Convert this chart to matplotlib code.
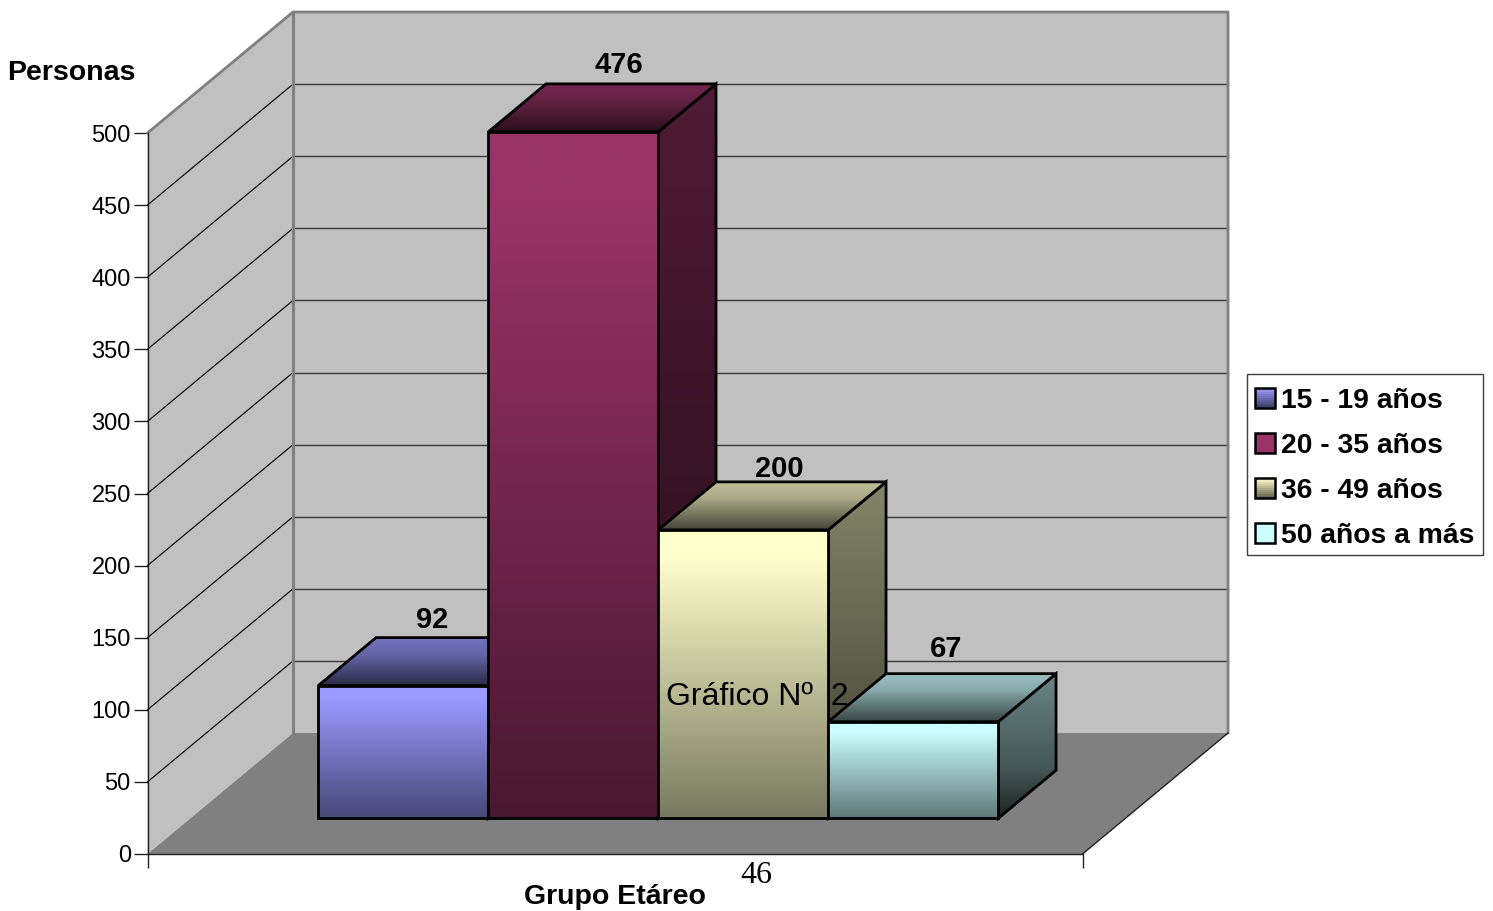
#!/usr/bin/env python3

import matplotlib
matplotlib.use('Agg')
import matplotlib.pyplot as plt
import numpy as np
from matplotlib.colors import LinearSegmentedColormap
from matplotlib.legend_handler import HandlerBase
from matplotlib.patches import Patch, Polygon, Rectangle

# data
groups = ['15 - 19 años', '20 - 35 años', '36 - 49 años', '50 años a más']
people = [92, 476, 200, 67]
y_ticks = [0, 50, 100, 150, 200, 250, 300, 350, 400, 450, 500]
colors = ['#9999ff', '#993366', '#ffffcc', '#ccffff']

W, H = 1493, 911
plt.rcParams['font.family'] = ['Liberation Sans', 'DejaVu Sans']

# the floor is drawn as an oblique projection, depth 1 is the back wall
X_MAX = 5.5
Y_MAX = 500
GAP = 0.752
DEPTH_X = 0.856
DEPTH_Y = 83.9
BAR_FRONT = 0.295
BAR_BACK = 0.692
# small shifts of the value labels, in pixels
NUDGE = [(0, 10), (17, 11), (7, 5), (4, 17)]
# darkest shade of the legend swatches, 1 means a flat swatch
SWATCH_DARK = [0.4, 1.0, 0.4, 1.0]


def project(x, y, depth):
    return (x + depth * DEPTH_X, y + depth * DEPTH_Y)


def shade(color, factor):
    return tuple(c * factor for c in matplotlib.colors.to_rgb(color))


def gradient_poly(ax, fig, points, color, stops, zorder):
    # vertical gradient clipped to a polygon with a black outline, stops run top to bottom
    pts = np.array(points)
    cmap = LinearSegmentedColormap.from_list('g', [(p, shade(color, f)) for p, f in stops])
    extent = (pts[:, 0].min(), pts[:, 0].max(), pts[:, 1].min(), pts[:, 1].max())
    grad = np.linspace(0, 1, 256).reshape(-1, 1)
    im = ax.imshow(grad, cmap=cmap, vmin=0, vmax=1, extent=extent, aspect='auto',
                   zorder=zorder, interpolation='bilinear')
    outline = Polygon(points, closed=True, fill=False, edgecolor='black', lw=2.0,
                      zorder=zorder, clip_on=False, joinstyle='miter')
    ax.add_patch(outline)
    clip = Polygon(points, closed=True, transform=ax.transData)
    im.set_clip_box(fig.bbox)
    im.set_clip_path(clip)


class SwatchHandler(HandlerBase):
    def __init__(self, dark):
        super().__init__()
        self.dark = dark

    def create_artists(self, legend, orig, xd, yd, w, h, fontsize, trans):
        color = orig.get_facecolor()[:3]
        n = 10
        artists = []
        for i in range(n):
            f = 1.0 - (1.0 - self.dark) * i / (n - 1)
            artists.append(Rectangle((-xd, -yd + h * (n - i - 1) / n), w, h / n + 0.2,
                                     facecolor=shade(color, f), edgecolor='none', transform=trans))
        artists.append(Rectangle((-xd, -yd), w, h, fill=False, edgecolor='black', lw=1.8,
                                 transform=trans))
        return artists


fig = plt.figure(figsize=(W / 100, H / 100), dpi=100)
ax = fig.add_axes([147.5 / W, (H - 854) / H, (1082.5 - 147.5) / W, (854 - 133) / H])
ax.patch.set_visible(False)

# walls and floor
side = [project(0, 0, 0), project(0, Y_MAX, 0), project(0, Y_MAX, 1), project(0, 0, 1)]
back = [project(0, 0, 1), project(0, Y_MAX, 1), project(X_MAX, Y_MAX, 1), project(X_MAX, 0, 1)]
floor = [project(0, 0, 0), project(X_MAX, 0, 0), project(X_MAX, 0, 1), project(0, 0, 1)]
ax.add_patch(Polygon(side, closed=True, fc='#c0c0c0', ec='none', zorder=1, clip_on=False))
ax.add_patch(Polygon(back, closed=True, fc='#c0c0c0', ec='none', zorder=1, clip_on=False))
ax.add_patch(Polygon(floor, closed=True, fc='#808080', ec='none', zorder=1, clip_on=False))

# grid on both walls
for v in y_ticks[1:-1]:
    a = project(0, v, 0)
    b = project(0, v, 1)
    c = project(X_MAX, v, 1)
    ax.plot([a[0], b[0]], [a[1], b[1]], color='#101010', lw=0.9, zorder=2, clip_on=False)
    ax.plot([b[0], c[0]], [b[1], c[1]], color='#383838', lw=1.0, zorder=2, clip_on=False)

# wall outlines
edge = [project(0, Y_MAX, 0), project(0, Y_MAX, 1), project(X_MAX, Y_MAX, 1), project(X_MAX, 0, 1)]
ax.plot(*zip(*edge), color='#808080', lw=2.0, zorder=2, clip_on=False)
ax.plot(*zip(project(0, 0, 1), project(0, Y_MAX, 1)), color='#808080', lw=2.2, zorder=2,
        clip_on=False)
ax.plot(*zip(project(X_MAX, 0, 0), project(X_MAX, 0, 1)), color='#202020', lw=1.0, zorder=2,
        clip_on=False)

# bars, left to right so each one covers the side of the previous
for i, (value, color) in enumerate(zip(people, colors)):
    z = 3 + i
    x0 = GAP + i
    x1 = x0 + 1
    front = [project(x0, 0, BAR_FRONT), project(x1, 0, BAR_FRONT),
             project(x1, value, BAR_FRONT), project(x0, value, BAR_FRONT)]
    top = [project(x0, value, BAR_FRONT), project(x1, value, BAR_FRONT),
           project(x1, value, BAR_BACK), project(x0, value, BAR_BACK)]
    right = [project(x1, 0, BAR_FRONT), project(x1, 0, BAR_BACK),
             project(x1, value, BAR_BACK), project(x1, value, BAR_FRONT)]
    gradient_poly(ax, fig, right, color, [(0, 0.52), (0.65, 0.34), (1, 0.14)], z)
    gradient_poly(ax, fig, top, color, [(0, 0.76), (0.35, 0.66), (1, 0.27)], z)
    gradient_poly(ax, fig, front, color, [(0, 1.0), (0.1, 1.0), (1, 0.47)], z)

    lx = project(x0 + 0.5, value, (BAR_FRONT + BAR_BACK) / 2)[0]
    ly = project(x0, value, BAR_BACK)[1]
    ax.annotate(str(value), (lx, ly), xytext=(NUDGE[i][0] * 0.72, NUDGE[i][1] * 0.72),
                textcoords='offset points', ha='center', va='baseline', fontsize=21,
                fontweight='bold', zorder=20, annotation_clip=False)

ax.set_xlim(0, X_MAX)
ax.set_ylim(0, Y_MAX)
ax.set_xticks([0, X_MAX])
ax.set_xticklabels([])
ax.set_yticks(y_ticks)
ax.tick_params(axis='both', length=10, width=1, color='#202020', pad=2)
ax.tick_params(axis='y', labelsize=17)
for label in ax.get_yticklabels():
    label.set_verticalalignment('center_baseline')
for name in ('top', 'right'):
    ax.spines[name].set_visible(False)
for name in ('left', 'bottom'):
    ax.spines[name].set_color('#202020')
    ax.spines[name].set_linewidth(1)

fig.text(71 / W, 1 - 80 / H, 'Personas', ha='center', va='baseline', fontsize=20.5,
         fontweight='bold')
fig.text(615 / W, 1 - 904 / H, 'Grupo Etáreo', ha='center', va='baseline', fontsize=20.5,
         fontweight='bold')
fig.text(666 / W, 1 - 705 / H, 'Gráfico Nº  2', ha='left', va='baseline', fontsize=23,
         zorder=30)
fig.text(756 / W, 1 - 883 / H, '46', ha='center', va='baseline', fontsize=23,
         family=['Liberation Serif', 'DejaVu Serif'], zorder=30)

# legend frame is separate because its padding differs between the sides
fig.add_artist(Rectangle((1247 / W, 1 - 555 / H), 236 / W, 181 / H, transform=fig.transFigure,
                         facecolor='white', edgecolor='#404040', lw=1))
handles = [Patch(facecolor=c, label=g) for g, c in zip(groups, colors)]
legend = fig.legend(handles=handles,
                    handler_map={h: SwatchHandler(d) for h, d in zip(handles, SWATCH_DARK)},
                    loc='upper left', bbox_to_anchor=(1255 / W, 1 - 388 / H),
                    borderaxespad=0, frameon=False, borderpad=0,
                    prop={'size': 20.3, 'weight': 'bold'}, labelspacing=0.67,
                    handlelength=0.72, handleheight=0.72, handletextpad=0.2)

fig.savefig('out.png', dpi=100)
